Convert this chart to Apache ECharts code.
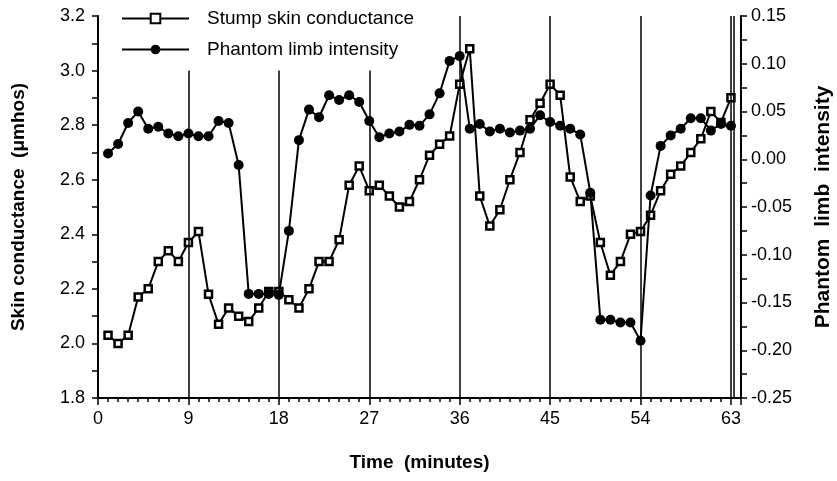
<!DOCTYPE html>
<html>
<head>
<meta charset="utf-8">
<script src="https://cdn.jsdelivr.net/npm/echarts@6/dist/echarts.min.js"></script>
<style>
  html, body { margin: 0; padding: 0; background: #fff; }
  #main { width: 837px; height: 481px; }
</style>
</head>
<body>
<div id="main"></div>
<script>
// time of each reading (minutes)
const minutes = [1, 2, 3, 4, 5, 6, 7, 8, 9, 10, 11, 12, 13, 14, 15, 16, 17, 18, 19, 20, 21,
  22, 23, 24, 25, 26, 27, 28, 29, 30, 31, 32, 33, 34, 35, 36, 37, 38, 39, 40, 41, 42,
  43, 44, 45, 46, 47, 48, 49, 50, 51, 52, 53, 54, 55, 56, 57, 58, 59, 60, 61, 62, 63]
// stump skin conductance (umhos), left axis
const conductance = [2.03, 2.00, 2.03, 2.17, 2.20, 2.30, 2.34, 2.30, 2.37, 2.41, 2.18, 2.07,
  2.13, 2.10, 2.08, 2.13, 2.19, 2.19, 2.16, 2.13, 2.20, 2.30, 2.30, 2.38, 2.58, 2.65, 2.56,
  2.58, 2.54, 2.50, 2.52, 2.60, 2.69, 2.73, 2.76, 2.95, 3.08, 2.54, 2.43, 2.49, 2.60, 2.70,
  2.82, 2.88, 2.95, 2.91, 2.61, 2.52, 2.54, 2.37, 2.25, 2.30, 2.40, 2.41, 2.47, 2.56, 2.62,
  2.65, 2.70, 2.75, 2.85, 2.81, 2.90]
// phantom limb intensity, right axis
const intensity = [0.006, 0.016, 0.038, 0.050, 0.032, 0.034, 0.027, 0.024, 0.027, 0.024, 0.024,
  0.040, 0.038, -0.006, -0.141, -0.141, -0.141, -0.142, -0.075, 0.020, 0.052, 0.044, 0.067,
  0.062, 0.067, 0.060, 0.040, 0.023, 0.027, 0.029, 0.036, 0.035, 0.047, 0.069, 0.103, 0.108,
  0.032, 0.037, 0.029, 0.032, 0.028, 0.030, 0.032, 0.046, 0.039, 0.035, 0.032, 0.026, -0.035,
  -0.168, -0.168, -0.171, -0.171, -0.190, -0.038, 0.014, 0.025, 0.032, 0.043, 0.043, 0.030,
  0.037, 0.035]
// vertical session markers and where they start (left axis value)
const markerTimes = [9, 18, 27, 36, 45, 54, 63, 63.25]
const markerTops = [3.0, 3.0, 3.0, 3.2, 3.2, 3.2, 3.2, 3.2]

const font = '"Liberation Sans", Arial, Helvetica, sans-serif'
const black = '#000'

const chart = echarts.init(document.getElementById('main'), null, { renderer: 'canvas' })

const option = {
  animation: false,
  backgroundColor: '#fff',
  textStyle: { fontFamily: font, color: black },
  grid: { left: 98, right: 96, top: 16, bottom: 83, containLabel: false, outerBoundsMode: 'none' },
  legend: {
    orient: 'vertical',
    left: 116,
    top: 4,
    itemWidth: 67,
    itemHeight: 12,
    itemGap: 12,
    textStyle: { fontSize: 19, fontFamily: font, color: black, padding: [0, 0, 0, 13] },
    data: ['Stump skin conductance', 'Phantom limb intensity']
  },
  xAxis: [{
    type: 'value',
    min: 0,
    max: 64,
    interval: 9,
    name: 'Time  (minutes)',
    nameLocation: 'middle',
    nameGap: 55,
    nameTextStyle: { fontSize: 19, fontWeight: 'bold', fontFamily: font, color: black },
    axisLine: { onZero: false, lineStyle: { color: black, width: 2 } },
    axisTick: { length: 7, lineStyle: { color: black, width: 1.5 } },
    axisLabel: {
      fontSize: 18, fontFamily: font, color: black, margin: 12,
      formatter: v => (v % 9 === 0 ? String(v) : '')
    },
    splitLine: { show: false }
  }, {
    // minute ticks
    type: 'value',
    position: 'bottom',
    min: 0,
    max: 64,
    interval: 1,
    axisLine: { show: false, onZero: false },
    axisTick: { show: true, length: 4, lineStyle: { color: black, width: 1.5 } },
    axisLabel: { show: false },
    splitLine: { show: false }
  }],
  yAxis: [{
    type: 'value',
    min: 1.8,
    max: 3.2,
    interval: 0.2,
    name: 'Skin conductance  (μmhos)',
    nameLocation: 'middle',
    nameGap: 70,
    nameTextStyle: { fontSize: 19, fontWeight: 'bold', fontFamily: font, color: black },
    axisLine: { show: true, onZero: false, lineStyle: { color: black, width: 2 } },
    axisTick: { show: true, length: 6, lineStyle: { color: black, width: 1.5 } },
    minorTick: { show: true, splitNumber: 2, length: 6, lineStyle: { color: black, width: 1.5 } },
    axisLabel: { fontSize: 18, fontFamily: font, color: black, margin: 13, formatter: v => v.toFixed(1) },
    splitLine: { show: false }
  }, {
    type: 'value',
    position: 'right',
    min: -0.25,
    max: 0.15,
    interval: 0.05,
    name: 'Phantom  limb  intensity',
    nameLocation: 'middle',
    nameGap: 72,
    nameRotate: 90,
    nameTextStyle: { fontSize: 21, fontWeight: 'bold', fontFamily: font, color: black },
    axisLine: { show: true, onZero: false, lineStyle: { color: black, width: 2 } },
    axisTick: { show: true, length: 6, lineStyle: { color: black, width: 1.5 } },
    minorTick: { show: true, splitNumber: 2, length: 6, lineStyle: { color: black, width: 1.5 } },
    axisLabel: { fontSize: 18, fontFamily: font, color: black, margin: 10, formatter: v => v.toFixed(2) },
    splitLine: { show: false }
  }],
  series: [{
    name: 'Stump skin conductance',
    type: 'line',
    xAxisIndex: 0,
    yAxisIndex: 0,
    data: minutes.map((t, i) => [t, conductance[i]]),
    symbol: 'rect',
    symbolSize: 7,
    showAllSymbol: true,
    lineStyle: { color: black, width: 2 },
    itemStyle: { color: '#fff', borderColor: black, borderWidth: 2.5 },
    z: 3,
    markLine: {
      silent: true,
      symbol: 'none',
      label: { show: false },
      lineStyle: { color: black, width: 1.5, type: 'solid' },
      data: markerTimes.map((t, i) => [{ coord: [t, markerTops[i]] }, { coord: [t, 1.8] }])
    }
  }, {
    name: 'Phantom limb intensity',
    type: 'line',
    xAxisIndex: 0,
    yAxisIndex: 1,
    data: minutes.map((t, i) => [t, intensity[i]]),
    symbol: 'circle',
    symbolSize: 10,
    showAllSymbol: true,
    lineStyle: { color: black, width: 2 },
    itemStyle: { color: black, borderColor: black, borderWidth: 0 },
    z: 4
  }]
}

chart.setOption(option)
</script>
</body>
</html>
